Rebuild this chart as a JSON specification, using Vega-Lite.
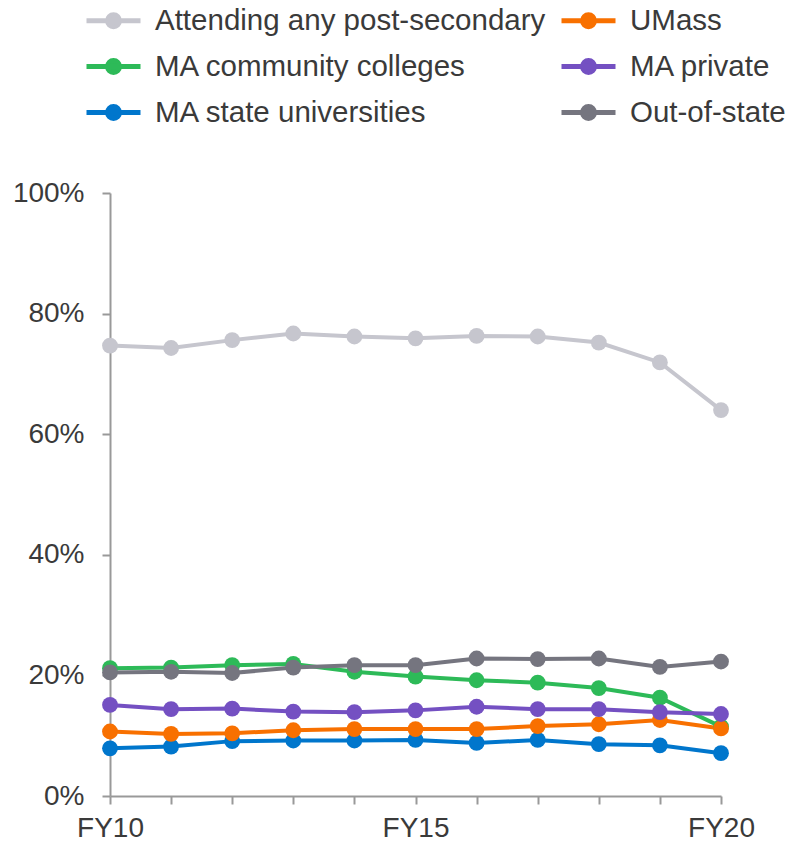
{
  "$schema": "https://vega.github.io/schema/vega-lite/v6.json",
  "autosize": {"type": "none"},
  "padding": {"left": 110, "top": 193, "right": 68, "bottom": 55},
  "width": 611,
  "height": 603,
  "background": "white",
  "config": {
    "view": {"stroke": null},
    "font": "Liberation Sans",
    "axis": {"labelFont": "Liberation Sans", "labelFontSize": 28, "labelColor": "#3a3a3a", "domainColor": "#999999", "tickColor": "#999999", "domainWidth": 2, "tickWidth": 2, "tickSize": 8, "grid": false, "title": null},
    "legend": {"labelFont": "Liberation Sans", "labelFontSize": 29.5, "labelColor": "#3a3a3a", "labelLimit": 0}
  },
  "data": {
    "values": [
      {"year": "FY10", "series": "Attending any post-secondary", "value": 0.747},
      {"year": "FY11", "series": "Attending any post-secondary", "value": 0.743},
      {"year": "FY12", "series": "Attending any post-secondary", "value": 0.756},
      {"year": "FY13", "series": "Attending any post-secondary", "value": 0.767},
      {"year": "FY14", "series": "Attending any post-secondary", "value": 0.762},
      {"year": "FY15", "series": "Attending any post-secondary", "value": 0.759},
      {"year": "FY16", "series": "Attending any post-secondary", "value": 0.763},
      {"year": "FY17", "series": "Attending any post-secondary", "value": 0.762},
      {"year": "FY18", "series": "Attending any post-secondary", "value": 0.752},
      {"year": "FY19", "series": "Attending any post-secondary", "value": 0.719},
      {"year": "FY20", "series": "Attending any post-secondary", "value": 0.640},
      {"year": "FY10", "series": "MA community colleges", "value": 0.212},
      {"year": "FY11", "series": "MA community colleges", "value": 0.213},
      {"year": "FY12", "series": "MA community colleges", "value": 0.217},
      {"year": "FY13", "series": "MA community colleges", "value": 0.219},
      {"year": "FY14", "series": "MA community colleges", "value": 0.206},
      {"year": "FY15", "series": "MA community colleges", "value": 0.198},
      {"year": "FY16", "series": "MA community colleges", "value": 0.192},
      {"year": "FY17", "series": "MA community colleges", "value": 0.188},
      {"year": "FY18", "series": "MA community colleges", "value": 0.179},
      {"year": "FY19", "series": "MA community colleges", "value": 0.163},
      {"year": "FY20", "series": "MA community colleges", "value": 0.115},
      {"year": "FY10", "series": "MA state universities", "value": 0.079},
      {"year": "FY11", "series": "MA state universities", "value": 0.082},
      {"year": "FY12", "series": "MA state universities", "value": 0.091},
      {"year": "FY13", "series": "MA state universities", "value": 0.092},
      {"year": "FY14", "series": "MA state universities", "value": 0.092},
      {"year": "FY15", "series": "MA state universities", "value": 0.093},
      {"year": "FY16", "series": "MA state universities", "value": 0.088},
      {"year": "FY17", "series": "MA state universities", "value": 0.093},
      {"year": "FY18", "series": "MA state universities", "value": 0.086},
      {"year": "FY19", "series": "MA state universities", "value": 0.084},
      {"year": "FY20", "series": "MA state universities", "value": 0.071},
      {"year": "FY10", "series": "UMass", "value": 0.107},
      {"year": "FY11", "series": "UMass", "value": 0.103},
      {"year": "FY12", "series": "UMass", "value": 0.104},
      {"year": "FY13", "series": "UMass", "value": 0.109},
      {"year": "FY14", "series": "UMass", "value": 0.111},
      {"year": "FY15", "series": "UMass", "value": 0.111},
      {"year": "FY16", "series": "UMass", "value": 0.111},
      {"year": "FY17", "series": "UMass", "value": 0.116},
      {"year": "FY18", "series": "UMass", "value": 0.119},
      {"year": "FY19", "series": "UMass", "value": 0.126},
      {"year": "FY20", "series": "UMass", "value": 0.112},
      {"year": "FY10", "series": "MA private", "value": 0.151},
      {"year": "FY11", "series": "MA private", "value": 0.144},
      {"year": "FY12", "series": "MA private", "value": 0.145},
      {"year": "FY13", "series": "MA private", "value": 0.140},
      {"year": "FY14", "series": "MA private", "value": 0.139},
      {"year": "FY15", "series": "MA private", "value": 0.142},
      {"year": "FY16", "series": "MA private", "value": 0.148},
      {"year": "FY17", "series": "MA private", "value": 0.144},
      {"year": "FY18", "series": "MA private", "value": 0.144},
      {"year": "FY19", "series": "MA private", "value": 0.139},
      {"year": "FY20", "series": "MA private", "value": 0.136},
      {"year": "FY10", "series": "Out-of-state", "value": 0.205},
      {"year": "FY11", "series": "Out-of-state", "value": 0.206},
      {"year": "FY12", "series": "Out-of-state", "value": 0.204},
      {"year": "FY13", "series": "Out-of-state", "value": 0.213},
      {"year": "FY14", "series": "Out-of-state", "value": 0.217},
      {"year": "FY15", "series": "Out-of-state", "value": 0.217},
      {"year": "FY16", "series": "Out-of-state", "value": 0.228},
      {"year": "FY17", "series": "Out-of-state", "value": 0.227},
      {"year": "FY18", "series": "Out-of-state", "value": 0.228},
      {"year": "FY19", "series": "Out-of-state", "value": 0.214},
      {"year": "FY20", "series": "Out-of-state", "value": 0.223}
    ]
  },
  "mark": {"type": "line", "strokeWidth": 4, "point": {"filled": true, "size": 250, "opacity": 1}},
  "encoding": {
    "x": {
      "field": "year", "type": "ordinal", "sort": null,
      "scale": {"type": "point", "padding": 0},
      "axis": {"labelAngle": 0, "labelOverlap": false, "labelPadding": 10, "labelExpr": "indexof(['FY10','FY15','FY20'], datum.value) >= 0 ? datum.value : ''"}
    },
    "y": {
      "field": "value", "type": "quantitative",
      "scale": {"domain": [0, 1], "nice": false},
      "axis": {"values": [0, 0.2, 0.4, 0.6, 0.8, 1], "format": ".0%", "labelPadding": 18}
    },
    "color": {
      "field": "series", "type": "nominal",
      "scale": {
        "domain": ["Attending any post-secondary", "MA community colleges", "MA state universities", "UMass", "MA private", "Out-of-state"],
        "range": ["#C6C6CE", "#2DBA58", "#0076CC", "#F87000", "#7450C2", "#75757F"]
      },
      "legend": {
        "title": null,
        "orient": "none",
        "legendX": -26,
        "legendY": -202,
        "columns": 2,
        "columnPadding": 5,
        "rowPadding": -8,
        "symbolType": "M-1,0H1M-0.22,0A0.22,0.22,0,1,1,0.22,0A0.22,0.22,0,1,1,-0.22,0Z",
        "symbolSize": 2916,
        "symbolStrokeWidth": 5,
        "labelOffset": 12,
        "encode": {
          "symbols": {"update": {"fill": {"scale": "color", "field": "value"}, "stroke": {"scale": "color", "field": "value"}, "opacity": {"value": 1}}}
        }
      }
    }
  }
}
